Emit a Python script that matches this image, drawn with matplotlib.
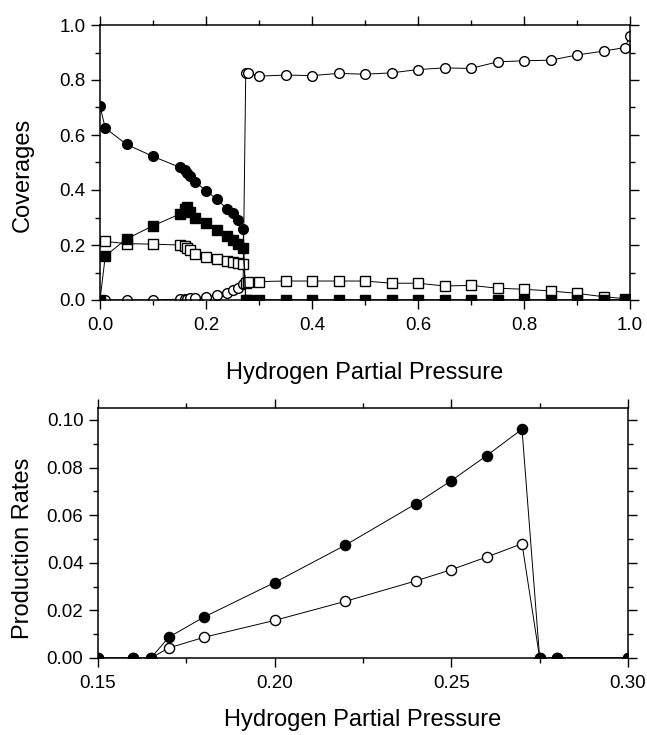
import matplotlib.pyplot as plt
from matplotlib.ticker import MultipleLocator

plt.rcParams['font.family'] = ['Liberation Sans', 'DejaVu Sans']

# top panel: coverages vs hydrogen partial pressure
p_top = [0.0, 0.01, 0.05, 0.10, 0.15, 0.16, 0.165, 0.17, 0.18, 0.20, 0.22, 0.24,
         0.25, 0.26, 0.27, 0.275, 0.28, 0.30, 0.35, 0.40, 0.45, 0.50, 0.55, 0.60,
         0.65, 0.70, 0.75, 0.80, 0.85, 0.90, 0.95, 0.99, 1.0]
cov_filled_circ = [0.705, 0.625, 0.566, 0.522, 0.483, 0.472, 0.461, 0.450, 0.428,
                   0.398, 0.367, 0.331, 0.315, 0.290, 0.257, 0.0, 0.0, 0.0, 0.0,
                   0.0, 0.0, 0.0, 0.0, 0.0, 0.0, 0.0, 0.0, 0.0, 0.0, 0.0, 0.0,
                   0.0, 0.0]
cov_filled_sq = [0.0, 0.160, 0.222, 0.270, 0.312, 0.332, 0.340, 0.320, 0.300,
                 0.279, 0.254, 0.234, 0.218, 0.203, 0.189, 0.0, 0.0, 0.0, 0.0,
                 0.0, 0.0, 0.0, 0.0, 0.0, 0.0, 0.0, 0.0, 0.0, 0.0, 0.0, 0.0,
                 0.0, 0.0]
cov_open_sq = [None, 0.213, 0.205, 0.203, 0.200, 0.196, 0.190, 0.183, 0.169,
               0.157, 0.148, 0.142, 0.138, 0.135, 0.130, 0.063, 0.066, 0.067,
               0.069, 0.069, 0.069, 0.069, 0.061, 0.061, 0.051, 0.053, 0.043,
               0.039, 0.033, 0.024, 0.012, 0.005, 0.0]
cov_open_circ = [0.0, 0.0, 0.0, 0.0, 0.003, 0.004, 0.005, 0.006, 0.008, 0.012,
                 0.018, 0.027, 0.035, 0.045, 0.060, 0.826, 0.826, 0.814, 0.818,
                 0.816, 0.824, 0.821, 0.826, 0.838, 0.844, 0.842, 0.866, 0.870,
                 0.872, 0.891, 0.905, 0.918, 0.960]

# bottom panel: production rates
p_bot = [0.15, 0.16, 0.165, 0.17, 0.18, 0.20, 0.22, 0.24, 0.25, 0.26, 0.27,
         0.275, 0.28, 0.30]
rate_filled = [0.0, 0.0, 0.0, 0.0087, 0.0172, 0.0317, 0.0474, 0.0648, 0.0745,
               0.0850, 0.0961, 0.0, 0.0, 0.0]
rate_open = [0.0, 0.0, 0.0, 0.0042, 0.0087, 0.0158, 0.0238, 0.0324, 0.0371,
             0.0424, 0.0480, 0.0, 0.0, 0.0]

fig = plt.figure(figsize=(6.47, 7.35), dpi=100)
ax1 = fig.add_axes([100 / 647, 1 - 300 / 735, 530 / 647, 275 / 735])
ax2 = fig.add_axes([98 / 647, 1 - 658 / 735, 530 / 647, 250 / 735])

lw = 0.7


def circ(filled, size):
    return dict(color='black', lw=lw, marker='o', ms=size,
                mfc='black' if filled else 'white', mec='black', mew=1.0)


xs = [x for x, v in zip(p_top, cov_open_sq) if v is not None]
ys = [v for v in cov_open_sq if v is not None]
ax1.plot(p_top, cov_open_circ, **circ(False, 7.0))
ax1.plot(xs, ys, color='black', lw=lw, marker='s', ms=6.5, mfc='white', mec='black', mew=1.0)
ax1.plot(p_top, cov_filled_circ, **circ(True, 7.0))
ax1.plot(p_top, cov_filled_sq, color='black', lw=lw, marker='s', ms=6.5, mfc='black', mec='black')

ax2.plot(p_bot, rate_open, **circ(False, 7.3))
ax2.plot(p_bot, rate_filled, **circ(True, 7.3))

ax1.set_xlim(0, 1.0)
ax1.set_ylim(0, 1.0)
ax1.xaxis.set_major_locator(MultipleLocator(0.2))
ax1.xaxis.set_minor_locator(MultipleLocator(0.1))
ax1.yaxis.set_major_locator(MultipleLocator(0.2))
ax1.yaxis.set_minor_locator(MultipleLocator(0.1))
ax1.xaxis.set_major_formatter(plt.FormatStrFormatter('%.1f'))
ax1.yaxis.set_major_formatter(plt.FormatStrFormatter('%.1f'))

ax2.set_xlim(0.15, 0.30)
ax2.set_ylim(0, 0.105)
ax2.xaxis.set_major_locator(MultipleLocator(0.05))
ax2.xaxis.set_minor_locator(MultipleLocator(0.025))
ax2.yaxis.set_major_locator(MultipleLocator(0.02))
ax2.yaxis.set_minor_locator(MultipleLocator(0.01))
ax2.xaxis.set_major_formatter(plt.FormatStrFormatter('%.2f'))
ax2.yaxis.set_major_formatter(plt.FormatStrFormatter('%.2f'))

for ax in (ax1, ax2):
    for s in ax.spines.values():
        s.set_linewidth(1.1)
    ax.tick_params(which='both', direction='out', top=True, right=True,
                   labelsize=13.5, width=1.0)
    ax.tick_params(which='major', length=6.5)
    ax.tick_params(which='minor', length=3.5)
    ax.tick_params(axis='x', pad=6)
    ax.tick_params(axis='y', pad=4)

ax1.set_xlabel('Hydrogen Partial Pressure', fontsize=17, va='center')
ax1.xaxis.set_label_coords(0.5, -73 / 275)
ax1.set_ylabel('Coverages', fontsize=17, va='center')
ax1.yaxis.set_label_coords(-77 / 530, 0.455)

ax2.set_xlabel('Hydrogen Partial Pressure', fontsize=17, va='center')
ax2.xaxis.set_label_coords(0.5, -62 / 250)
ax2.set_ylabel('Production Rates', fontsize=17, va='center')
ax2.yaxis.set_label_coords(-75 / 530, 0.44)

fig.savefig('out.png', dpi=100)
